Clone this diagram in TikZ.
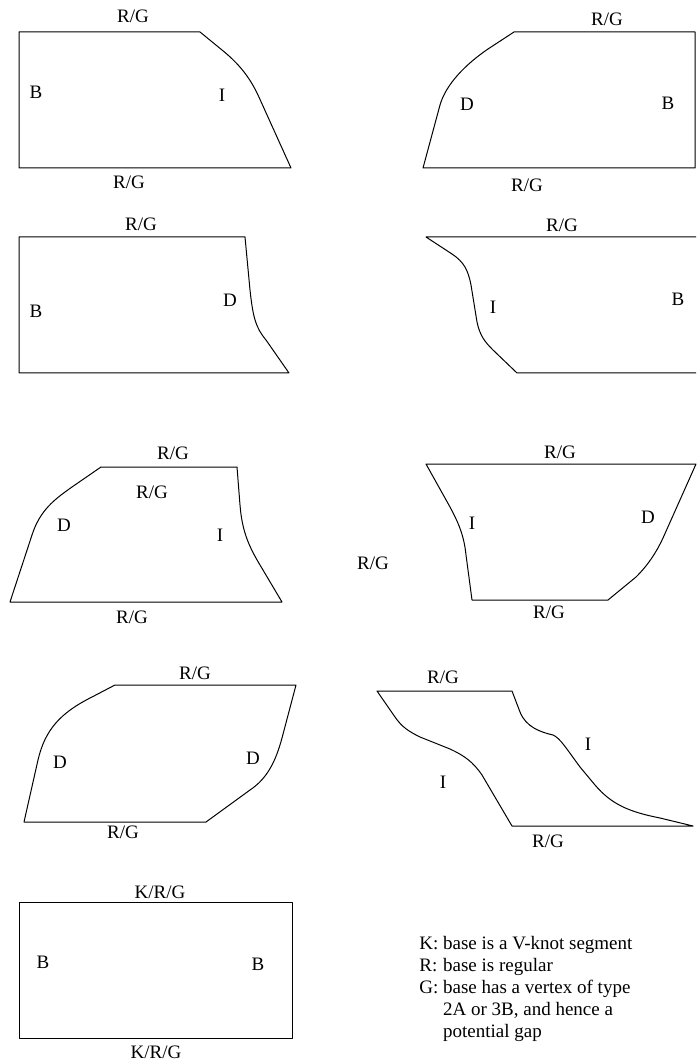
\documentclass[tikz,border=0pt]{standalone}
\usepackage{fontspec}
\setmainfont{Liberation Serif}
\usepackage{tikz}

\begin{document}
\begin{tikzpicture}[
        x=0.5pt, y=-0.5pt,
        font=\fontsize{9.5}{11}\selectfont,
        outline/.style={line width=0.5pt, draw=black, line join=round},
        lbl/.style={inner sep=1pt}
      ]
        \useasboundingbox (0,0) rectangle (696,1063);
        % row 1
        \draw[outline] (200,32) -- (19,32) -- (19,168) -- (291,168) -- (258,95)
          .. controls (249,76) and (238,63) .. (222,50) -- cycle;
        \node[lbl] (p1top) at (133,16) {R/G};
        \node[lbl] (p1bot) at (129,182) {R/G};
        \node[lbl] (p1left) at (36,92) {B};
        \node[lbl] (p1right) at (222,95) {I};

        \draw[outline] (514,32) -- (695,32) -- (695,168) -- (423,168) -- (440,105)
          .. controls (446,84) and (466,64) .. (488,49) -- cycle;
        \node[lbl] (p2top) at (607,19) {R/G};
        \node[lbl] (p2bot) at (527,185) {R/G};
        \node[lbl] (p2left) at (467,104) {D};
        \node[lbl] (p2right) at (668,103) {B};

        % row 2
        \draw[outline] (245,237) -- (19,237) -- (19,373) -- (289,373) -- (266,340)
          .. controls (256,328) and (253,318) .. (250,290) -- cycle;
        \node[lbl] (p3top) at (141,224) {R/G};
        \node[lbl] (p3left) at (36,311) {B};
        \node[lbl] (p3right) at (230,300) {D};

        \draw[outline] (696,237) -- (426,237) -- (452,254)
          .. controls (464,262) and (468,270) .. (471,285) -- (477,322)
          .. controls (480,336) and (485,342) .. (493,350) -- (517,373) -- (696,373);
        \node[lbl] (p4top) at (562,225) {R/G};
        \node[lbl] (p4left) at (493,307) {I};
        \node[lbl] (p4right) at (678,299) {B};

        % row 3
        \draw[outline] (101,467) -- (237,467) -- (240,505)
          .. controls (242,530) and (248,545) .. (260,565) -- (282,602) -- (10,602) -- (32,535)
          .. controls (40,510) and (55,499) .. (72,487) -- cycle;
        \node[lbl] (p5top) at (173,453) {R/G};
        \node[lbl] (p5mid) at (152,492) {R/G};
        \node[lbl] (p5bot) at (132,617) {R/G};
        \node[lbl] (p5left) at (64,525) {D};
        \node[lbl] (p5right) at (220,535) {I};

        \draw[outline] (426,464) -- (696,464) -- (663,538)
          .. controls (656,553) and (648,565) .. (636,577) -- (608,600) -- (472,600) -- (466,555)
          .. controls (464,535) and (458,522) .. (450,507) -- cycle;
        \node[lbl] (p6top) at (560,452) {R/G};
        \node[lbl] (p6out) at (373,563) {R/G};
        \node[lbl] (p6bot) at (549,612) {R/G};
        \node[lbl] (p6left) at (472,523) {I};
        \node[lbl] (p6right) at (648,517) {D};

        % row 4
        \draw[outline] (115,685) -- (296,685) -- (282,738)
          .. controls (276,760) and (268,778) .. (250,790) -- (206,822) -- (24,822) -- (38,760)
          .. controls (45,730) and (60,713) .. (92,697) -- cycle;
        \node[lbl] (p7top) at (195,673) {R/G};
        \node[lbl] (p7bot) at (123,832) {R/G};
        \node[lbl] (p7left) at (60,762) {D};
        \node[lbl] (p7right) at (253,758) {D};

        \draw[outline] (377,691) -- (512,691) -- (520,712)
          .. controls (526,727) and (540,732) .. (553,735)
          .. controls (560,738) and (566,748) .. (580,767) -- (595,785)
          .. controls (612,805) and (630,812) .. (660,818) -- (693,826) -- (512,826) -- (482,775)
          .. controls (473,762) and (465,756) .. (450,749) -- (420,737)
          .. controls (408,731) and (402,727) .. (395,717) -- cycle;
        \node[lbl] (p8top) at (443,677) {R/G};
        \node[lbl] (p8bot) at (548,841) {R/G};
        \node[lbl] (p8left) at (443,782) {I};
        \node[lbl] (p8right) at (588,744) {I};

        % row 5
        \draw[outline] (19,902) rectangle (292,1038);
        \node[lbl] (p9top) at (160,892) {K/R/G};
        \node[lbl] (p9bot) at (156,1052) {K/R/G};
        \node[lbl] (p9left) at (43,962) {B};
        \node[lbl] (p9right) at (258,964) {B};

        \node[anchor=base west, inner sep=0pt] (legend) at (419,949)
          {\begin{tabular}[t]{@{}l@{ }l@{}}
            K: & base is a V-knot segment\\
            R: & base is regular\\
            G: & base has a vertex of type\\
               & 2A or 3B, and hence a\\
               & potential gap
          \end{tabular}};
      \end{tikzpicture}
\end{document}
